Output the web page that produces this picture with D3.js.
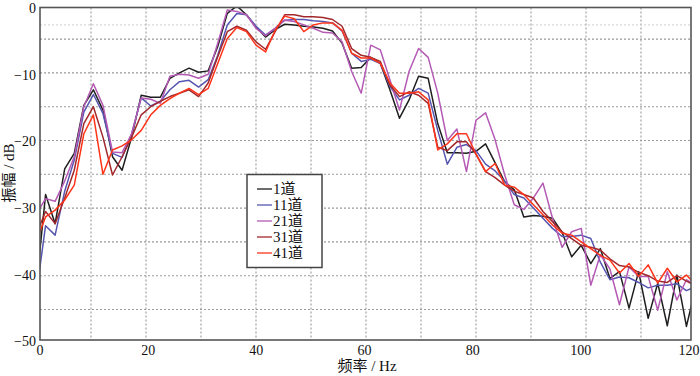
<!doctype html>
<html lang="zh">
<head>
  <meta charset="UTF-8">
  <title>振幅谱</title>
  <script src="https://d3js.org/d3.v7.min.js"></script>
  <style>
    body { margin: 0; background: #fff; }
    text { font-family: "Liberation Serif", "Noto Sans CJK SC", serif; }
  </style>
</head>
<body>
  <div id="chart"></div>
  <script>
    const nPts = 70;
    const df = 120 / 69;
    const freq = d3.range(nPts).map(i => i * df);

    const tr1 = [-42, -28, -32.3, -24.2, -21.9, -14.8, -12.5, -15.5, -22.4, -24.4,
      -19.5, -13.3, -13.6, -13.6, -10.8, -10, -9.3, -9.9, -9.7, -6.1,
      -1.2, -0.1, -1.4, -3.2, -4.7, -3.6, -2.8, -2.9, -3.1, -3.2,
      -3.4, -3.8, -5.6, -9.3, -9.2, -7.7, -8.6, -12.5, -16.7, -14,
      -10.5, -10.8, -17.5, -21.8, -21.8, -21.9, -21.6, -20.5, -23.3, -26.1,
      -27.3, -31.3, -31.1, -31.2, -31.5, -33.6, -37.2, -35.5, -38.2, -36,
      -40.4, -39.4, -44.8, -39.4, -46.3, -41.1, -47.4, -39.9, -47.5, -41.5];
    const tr11 = [-43, -32.6, -34, -27.5, -22.9, -15.8, -13.2, -16, -21.9, -22.5,
      -19, -13.7, -14.9, -14.2, -12.5, -11.3, -11.1, -12.1, -11, -7.4,
      -2.9, -1.2, -1.4, -3.1, -4.4, -3.4, -2.2, -2.1, -2.1, -2.3,
      -2.4, -2.6, -3.8, -7.1, -8.3, -8, -8.6, -12, -14, -13.3,
      -12.3, -13, -18.5, -23.5, -21, -20.6, -21.5, -23.5, -24.5, -26,
      -28, -28.5, -30, -31.5, -33, -34.2, -34.2, -34, -34.5, -38,
      -40.6, -40.2, -40.3, -41, -41.8, -41.4, -41.4, -41.2, -42.2, -41.6];
    const tr21 = [-31, -28.6, -29, -26, -22.4, -15, -11.6, -14.8, -21.7, -21.8,
      -19, -13.7, -13.9, -14.5, -10.5, -10.2, -10.3, -10.8, -10.2, -5.6,
      -0.7, -0.9, -1.4, -3.4, -4.5, -3.4, -2.2, -2.4, -2.9, -3.4,
      -4, -4.1, -5.4, -9.8, -13, -5.9, -6.6, -11, -15.5, -9.8,
      -6.4, -7.7, -13, -20, -18.3, -24.6, -17, -15.9, -19.9, -25.1,
      -29.5, -30.2, -28.5, -26.3, -31.5, -35.8, -33.5, -33, -41.4, -36.9,
      -39, -44.3, -38.7, -40.1, -40.1, -45.1, -39.4, -43.6, -40.6, -41.5];
    const tr31 = [-34, -30.5, -32.3, -28.5, -24.4, -17.5, -15, -19.5, -25.1, -22.4,
      -19.5, -16.2, -15, -14.2, -13.5, -13, -12.5, -13.5, -11.5, -7.6,
      -3.9, -3.1, -3.7, -5.4, -6.5, -3.9, -1.4, -1.4, -1.7, -1.7,
      -1.8, -2.1, -3.1, -6.4, -7.4, -7.7, -8.3, -11.8, -13.5, -12.8,
      -13.3, -14.5, -21, -21.5, -20.2, -20.2, -22, -24.6, -25.5, -26.6,
      -27.5, -28, -28.5, -30.5, -32, -33.5, -34.5, -35.5, -35.8, -36.2,
      -37.5, -38.5, -38.7, -39.5, -40, -40.8, -41, -40, -40.8, -41.5];
    const tr41 = [-35, -31.3, -30.3, -28.8, -26.6, -19, -16.2, -25, -21.4, -20.8,
      -19.9, -18.5, -16.2, -14.8, -13.8, -13, -12.3, -13.2, -12.3, -8.6,
      -4.9, -3.3, -3.9, -5.9, -6.9, -3.7, -1.6, -2, -3.9, -2.9,
      -2.6, -2.6, -3.7, -7.1, -7.8, -7.8, -8.6, -11.5, -13, -13,
      -12.8, -14, -21.4, -20.5, -19, -19, -22, -24.6, -23.4, -26.6,
      -26.9, -28, -29.5, -31, -32.5, -33.7, -34, -35, -36, -37,
      -37.7, -39.6, -38.2, -40.1, -38.4, -41.1, -38.9, -40.9, -39.9, -41.4];

    const traceNames = ["1道", "11道", "21道", "31道", "41道"];
    const traceColors = ["#1e1e1e", "#5656b0", "#b45ab4", "#a3282c", "#ff3419"];
    const traces = [tr1, tr11, tr21, tr31, tr41];

    const xTicks = [0, 20, 40, 60, 80, 100, 120];
    const yTicks = [0, -10, -20, -30, -40, -50];
    const xGrid = [10, 20, 30, 40, 50, 60, 70, 80, 90, 100, 110];
    const yGrid = [-5, -10, -15, -20, -25, -30, -35, -40, -45];
    const yGridFaint = [-2.9];

    const W = 700, H = 376;
    const frame = { left: 40, right: 691, top: 7.5, bottom: 340 };

    // grid + data scale
    const x = d3.scaleLinear().domain([0, 120]).range([36, 696]);
    const y = d3.scaleLinear().domain([-50, 0]).range([343.3, 5.3]);
    // tick-label scales
    const xLab = d3.scaleLinear().domain([0, 120]).range([39.5, 688.5]);
    const yLab = d3.scaleLinear().domain([-50, 0]).range([341.5, 8]);

    const svg = d3.select("#chart").append("svg")
      .attr("width", W)
      .attr("height", H);

    svg.append("rect").attr("width", W).attr("height", H).attr("fill", "#fff");

    svg.append("clipPath").attr("id", "plotClip")
      .append("rect")
        .attr("x", frame.left)
        .attr("y", frame.top)
        .attr("width", frame.right - frame.left)
        .attr("height", frame.bottom - frame.top);

    // grid lines
    const grid = svg.append("g").attr("clip-path", "url(#plotClip)");
    grid.selectAll(".gx").data(xGrid).enter().append("line")
      .attr("x1", d => x(d)).attr("x2", d => x(d))
      .attr("y1", frame.top).attr("y2", frame.bottom)
      .attr("stroke", "#9a9a9a").attr("stroke-width", 1.1)
      .attr("stroke-dasharray", "2,2");
    grid.selectAll(".gy").data(yGrid).enter().append("line")
      .attr("x1", frame.left).attr("x2", frame.right)
      .attr("y1", d => y(d)).attr("y2", d => y(d))
      .attr("stroke", "#9a9a9a").attr("stroke-width", 1.1)
      .attr("stroke-dasharray", "2,2");
    grid.selectAll(".gf").data(yGridFaint).enter().append("line")
      .attr("x1", frame.left).attr("x2", frame.right)
      .attr("y1", d => y(d)).attr("y2", d => y(d))
      .attr("stroke", "#cfcfcf").attr("stroke-width", 1)
      .attr("stroke-dasharray", "2,2");

    // spectra
    const line = d3.line()
      .x((d, i) => x(freq[i]))
      .y(d => y(d));

    svg.append("g").attr("clip-path", "url(#plotClip)")
      .selectAll("path").data(traces).enter().append("path")
        .attr("d", line)
        .attr("fill", "none")
        .attr("stroke", (d, i) => traceColors[i])
        .attr("stroke-width", 1.5)
        .attr("stroke-linejoin", "round");

    // frame
    svg.append("rect")
      .attr("x", frame.left).attr("y", frame.top)
      .attr("width", frame.right - frame.left)
      .attr("height", frame.bottom - frame.top)
      .attr("fill", "none")
      .attr("stroke", "#555")
      .attr("stroke-width", 1.6);

    // axes (labels only)
    const xAxis = d3.axisBottom(xLab).tickValues(xTicks).tickSize(0).tickPadding(0);
    svg.append("g")
      .attr("transform", "translate(0," + frame.bottom + ")")
      .call(xAxis)
      .call(g => g.select(".domain").remove())
      .selectAll("text")
        .attr("dy", "1.05em")
        .attr("fill", "#111")
        .style("font-size", "14px");

    const yAxis = d3.axisLeft(yLab).tickValues(yTicks).tickSize(0).tickPadding(4);
    svg.append("g")
      .attr("transform", "translate(" + frame.left + ",0)")
      .call(yAxis)
      .call(g => g.select(".domain").remove())
      .selectAll("text")
        .attr("fill", "#111")
        .style("font-size", "14px");

    // axis titles
    svg.append("text")
      .attr("x", 367).attr("y", 371)
      .attr("text-anchor", "middle")
      .style("font-size", "15px")
      .attr("fill", "#111")
      .text("频率 / Hz");

    svg.append("text")
      .attr("transform", "translate(14,173) rotate(-90)")
      .attr("text-anchor", "middle")
      .style("font-size", "15px")
      .attr("fill", "#111")
      .text("振幅 / dB");

    // legend
    const legend = svg.append("g");
    legend.append("rect")
      .attr("x", 247).attr("y", 174.5)
      .attr("width", 75).attr("height", 93)
      .attr("fill", "#fff")
      .attr("stroke", "#444")
      .attr("stroke-width", 1.5);
    const items = legend.selectAll(".item").data(traceNames).enter().append("g")
      .attr("transform", (d, i) => "translate(257," + (189 + i * 16) + ")");
    items.append("line")
      .attr("x1", 0).attr("x2", 15)
      .attr("stroke", (d, i) => traceColors[i])
      .attr("stroke-width", 1.3);
    items.append("text")
      .attr("x", 16).attr("dy", "0.35em")
      .style("font-size", "15px")
      .attr("fill", "#111")
      .text(d => d);
  </script>
</body>
</html>
